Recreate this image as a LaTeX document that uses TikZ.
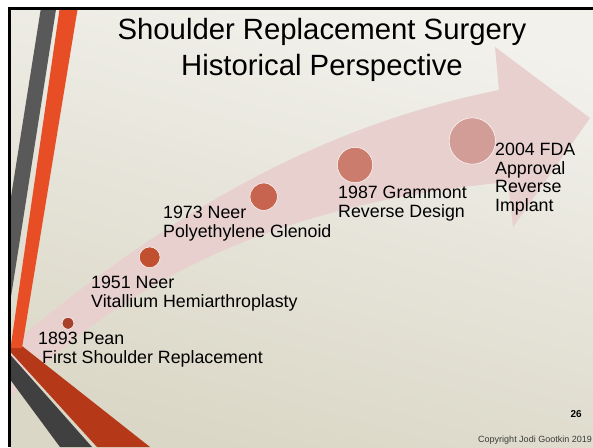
\documentclass[tikz,border=0pt]{standalone}
\usepackage{fontspec}
\setmainfont{Liberation Sans}
\definecolor{bgtop}{HTML}{F2F1EC}
\definecolor{bgmid}{HTML}{EAE8DF}
\definecolor{bgbot}{HTML}{DAD7C6}
\definecolor{arrowpink}{HTML}{E7D0CE}
\definecolor{stripegray}{HTML}{595959}
\definecolor{stripeorange}{HTML}{E84E25}
\definecolor{stripered}{HTML}{B53818}
\definecolor{stripedark}{HTML}{404040}
\definecolor{c1893}{HTML}{A8402A}
\definecolor{c1951}{HTML}{C0502F}
\definecolor{c1973}{HTML}{C76450}
\definecolor{c1987}{HTML}{CB7C6C}
\definecolor{c2004}{HTML}{D29D96}
\definecolor{copygray}{HTML}{3A3A3A}
\begin{document}
\begin{tikzpicture}[x=1pt,y=-1pt,line join=round]
	\tikzset{lbl/.style={anchor=base west,align=left,inner sep=0pt,font=\fontsize{17.8}{18.5}\selectfont},
		dot/.style={circle,draw=white,line width=0.5pt,inner sep=0pt,minimum size=#1}}
	\useasboundingbox (0,0) rectangle (593,447);
	\fill[white] (0,0) rectangle (593,447);
	\shade[top color=bgtop,middle color=bgmid,bottom color=bgbot,shading angle=-15] (10.5,9.5) rectangle (593,447);
	% timeline arrow
	\fill[arrowpink] (10.5,345) .. controls (150,230) and (300,130) .. (499,90) -- (495,47) -- (590,118)
		-- (513,227) -- (508,182) .. controls (320,200) and (150,255) .. (10.5,397) -- cycle;
	% stripes on the left
	\fill[stripegray] (40.7,9.5) -- (56,9.5) -- (10.5,300) -- (10.5,200) -- cycle;
	\fill[stripered] (10.5,344) -- (22,346) -- (150,447) -- (97,447) -- (10.5,352) -- cycle;
	\fill[stripeorange] (59.5,9.5) -- (77.5,9.5) -- (22,348) -- (10.5,348) -- cycle;
	\fill[stripedark] (10.5,355) -- (92,447) -- (60,447) -- (10.5,380) -- cycle;
	% frame
	\fill[black] (8,7) rectangle (593,9.5);
	\fill[black] (8,7) rectangle (10.5,447);
	% title (base = last line)
	\node[anchor=base,align=center,inner sep=0pt,font=\fontsize{29.3}{35.7}\selectfont] (title) at (322,75)
		{Shoulder Replacement Surgery\\Historical Perspective};
	% dots
	\foreach \n/\x/\y/\d in {1893/68/323.3/11.7,1951/149.7/257.3/20.7,1973/263.7/196.7/27.3,1987/355/165/35.3,2004/472.3/141/46.3}
	\node[dot=\d pt,fill=c\n] (d\n) at (\x,\y) {};
	% labels, placed at the baseline of their last line
	\node[lbl] (t1893) at (38,363) {1893 Pean\\\hspace*{4pt}First Shoulder Replacement};
	\node[lbl] (t1951) at (91,307) {1951 Neer\\Vitallium Hemiarthroplasty};
	\node[lbl] (t1973) at (163,237) {1973 Neer\\Polyethylene Glenoid};
	\node[lbl] (t1987) at (338,217) {1987 Grammont\\Reverse Design};
	\node[lbl] (t2004) at (495,211) {2004 FDA\\Approval\\Reverse\\Implant};
	% footer
	\node[anchor=base east,inner sep=0pt,font=\fontsize{10}{12}\selectfont\bfseries] (pgno) at (582,417) {26};
	\node[anchor=base east,inner sep=0pt,font=\fontsize{9}{11}\selectfont,text=copygray] (copy) at (592,442) {Copyright Jodi Gootkin 2019};
\end{tikzpicture}
\end{document}
